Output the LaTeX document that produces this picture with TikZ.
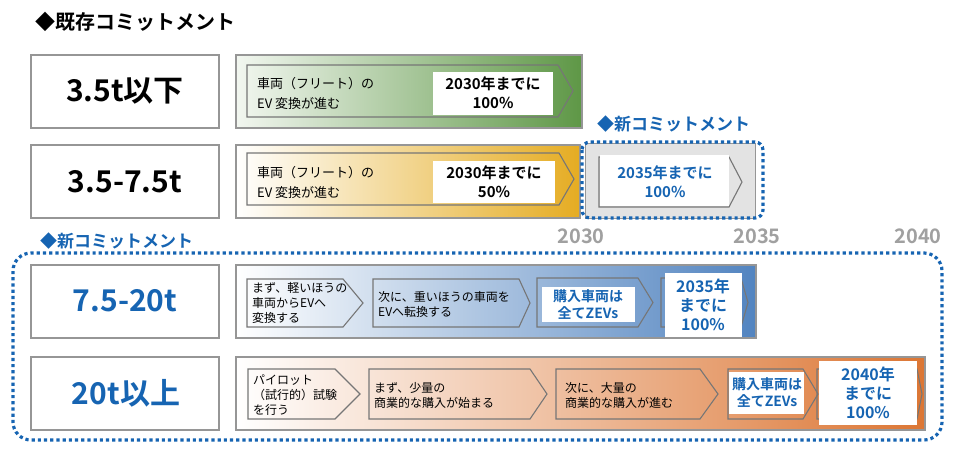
\documentclass[tikz,border=0pt]{standalone}
\usepackage{fontspec}
\setmainfont{Noto Sans CJK JP}[BoldFont={Noto Sans CJK JP Bold}]
\definecolor{cblue}{RGB}{22,100,178}
\definecolor{cgreen}{RGB}{94,151,70}
\definecolor{cgold}{RGB}{229,172,34}
\definecolor{csteel}{RGB}{82,132,192}
\definecolor{corange}{RGB}{220,118,52}
\definecolor{cborder}{RGB}{150,150,150}
\definecolor{cchev}{RGB}{118,118,118}
\definecolor{cyear}{RGB}{160,160,160}
\newcommand\mychev[5]{\draw[chev] (#1,#2) -- ({#3-#5},#2) -- (#3,{(#2+#4)/2}) -- ({#3-#5},#4) -- (#1,#4) -- cycle;}
\tikzset{
  labelbox/.style={draw=cborder, line width=1.2pt, fill=white},
  barline/.style={draw=cborder, line width=1.2pt},
  chev/.style={draw=cchev, line width=1.1pt},
  wbox/.style={fill=white},
  ttl/.style={font=\bfseries\fontsize{20}{24}\selectfont, anchor=west, inner sep=0},
  ncl/.style={font=\bfseries\fontsize{17}{20}\selectfont, anchor=west, inner sep=0, text=cblue},
  rowlab/.style={font=\bfseries\fontsize{30}{36}\selectfont, inner sep=0},
  ctxt/.style={font=\fontsize{13}{20}\selectfont, anchor=west, align=left, inner sep=0},
  stxt/.style={font=\fontsize{12}{15}\selectfont, anchor=west, align=left, inner sep=0},
  wtxt/.style={font=\bfseries\fontsize{15}{19}\selectfont, align=center, inner sep=0},
  ztxt/.style={font=\bfseries\fontsize{14}{17}\selectfont, align=center, inner sep=0, text=cblue},
  ytxt/.style={font=\bfseries\fontsize{16}{19}\selectfont, align=center, inner sep=0, text=cblue},
  yr/.style={font=\bfseries\fontsize{20}{24}\selectfont, inner sep=0, text=cyear},
  dotbox/.style={draw=cblue, line width=3.2pt, dash pattern=on 3.2pt off 3pt}
}
\begin{document}
\begin{tikzpicture}[x=1pt,y=-1pt]
\useasboundingbox (0,0) rectangle (960,453);

% title
\node[ttl] (title) at (35,22) {◆既存コミットメント};

% ---- Row 1
\draw[labelbox] (31,55) rectangle (219,128);
\node[rowlab] (l1) at (125,91) {3.5t以下};
\shade[left color=white!92!cgreen, middle color=cgreen!50!white, right color=cgreen] (236,55) rectangle (582,128);
\draw[barline] (236,55) rectangle (582,128);
\mychev{247}{65}{573}{117}{15}
\fill[wbox] (433,72) rectangle (553,115);
\node[ctxt] (t1) at (257,93) {車両（フリート）の\\EV 変換が進む};
\node[wtxt] (w1) at (493,93) {2030年までに\\100\%};

% ---- Row 2
\draw[labelbox] (31,145) rectangle (219,218);
\node[rowlab] (l2) at (125,182) {3.5-7.5t};
\shade[left color=white, middle color=cgold!40!white, right color=cgold] (236,145) rectangle (580,218);
\draw[barline] (236,145) rectangle (580,218);
\mychev{247}{153}{574}{205}{15}
\fill[wbox] (433,161) rectangle (555,203);
\node[ctxt] (t2) at (257,182) {車両（フリート）の\\EV 変換が進む};
\node[wtxt] (w2) at (494,182) {2030年までに\\50\%};

% new commitment (row 2)
\fill[gray!22] (585,143) rectangle (755,218);
\draw[cborder, line width=1pt] (585,143) rectangle (755,218);
\mychev{599}{157}{742}{207}{13}
\fill[wbox] (600,155) rectangle (729,205.5);
\node[ytxt, font=\bfseries\fontsize{15}{19}\selectfont] (w2n) at (665,182) {2035年までに\\100\%};
\draw[dotbox, rounded corners=8pt] (582,142) rectangle (763,218);
\node[ncl] (nc1) at (597,124) {◆新コミットメント};

% years
\node[yr] (y30) at (581,236) {2030};
\node[yr] (y35) at (757,236) {2035};
\node[yr] (y40) at (918,236) {2040};

% big new commitment
\node[ncl] (nc2) at (40,241) {◆新コミットメント};
\draw[dotbox, rounded corners=18pt] (13,253) rectangle (942,440);

% ---- Row 3
\draw[labelbox] (31,265) rectangle (219,338);
\node[rowlab, text=cblue] (l3) at (125,301) {7.5-20t};
\shade[left color=white, middle color=csteel!38!white, right color=csteel] (236,265) rectangle (756,338);
\draw[barline] (236,265) rectangle (756,338);
\mychev{247}{279}{363}{327}{20}
\mychev{373}{279}{530}{327}{11}
\mychev{537}{278}{653}{327}{15}
\fill[wbox] (542,287) rectangle (635,322);
\mychev{661}{278}{748}{327}{7}
\fill[wbox] (665,273) rectangle (742,337);
\node[stxt] (a1) at (252,303) {まず、軽いほうの\\車両からEVへ\\変換する};
\node[stxt] (a2) at (378,304) {次に、重いほうの車両を\\EVへ転換する};
\node[ztxt] (a3) at (588,305) {購入車両は\\全てZEVs};
\node[ytxt] (a4) at (703,305) {2035年\\までに\\100\%};

% ---- Row 4
\draw[labelbox] (31,357) rectangle (219,430);
\node[rowlab, text=cblue] (l4) at (126,393) {20t以上};
\shade[left color=white, middle color=corange!45!white, right color=corange] (236,357) rectangle (925,430);
\draw[barline] (236,357) rectangle (925,430);
\mychev{248}{369}{360}{419}{25}
\mychev{369}{369}{547}{419}{17}
\mychev{556}{369}{718}{419}{18}
\mychev{728}{369}{818}{419}{15}
\fill[wbox] (729,372) rectangle (804,414);
\mychev{817}{369}{922}{419}{5}
\fill[wbox] (819,361) rectangle (917,425);
\node[stxt] (b1) at (253,395) {パイロット\\（試行的）試験\\を行う};
\node[stxt] (b2) at (374,395) {まず、少量の\\商業的な購入が始まる};
\node[stxt] (b3) at (565,395) {次に、大量の\\商業的な購入が進む};
\node[ztxt] (b4) at (767,393) {購入車両は\\全てZEVs};
\node[ytxt] (b5) at (868,393) {2040年\\までに\\100\%};
\end{tikzpicture}
\end{document}
